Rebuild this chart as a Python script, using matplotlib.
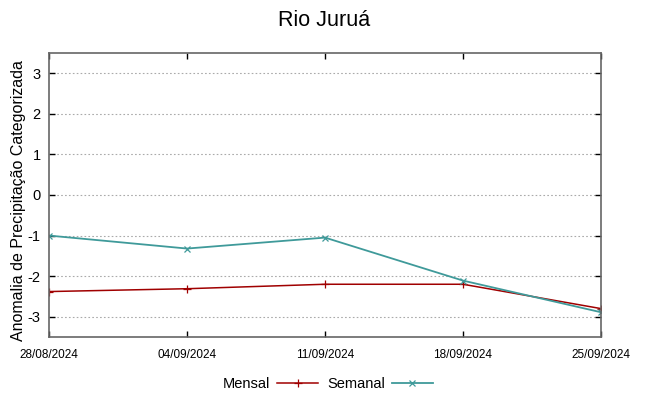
import matplotlib
matplotlib.use("Agg")
import matplotlib.pyplot as plt

plt.rcParams['font.family'] = ['Liberation Sans', 'DejaVu Sans']

dates = ["28/08/2024", "04/09/2024", "11/09/2024", "18/09/2024", "25/09/2024"]
mensal = [-2.38, -2.31, -2.20, -2.20, -2.80]
semanal = [-1.00, -1.32, -1.05, -2.11, -2.89]
yticks = [-3, -2, -1, 0, 1, 2, 3]

fig = plt.figure(figsize=(6.49, 3.96), dpi=100)
ax = fig.add_axes([49/649, 1-337/396, (601-49)/649, (337-53)/396])

x = list(range(len(dates)))
ax.plot(x, mensal, color='#a00000', lw=1.1, marker='+', ms=6, mew=0.9, label='Mensal')
ax.plot(x, semanal, color='#3f9a9a', lw=1.3, marker='x', ms=5, mew=0.9, label='Semanal')

ax.set_xlim(0, len(dates)-1)
ax.set_ylim(-3.5, 3.5)
ax.set_xticks(x)
ax.set_xticklabels(dates, fontsize=8.5)
ax.set_yticks(yticks)
ax.set_yticklabels([str(v) for v in yticks], fontsize=10.5)
ax.tick_params(direction='in', top=True, right=True, length=4, width=1, colors='black', pad=6)
ax.tick_params(axis='x', pad=9)
ax.yaxis.grid(True, linestyle=(0, (1.5, 2)), color='#aaaaaa', lw=0.8)
for s in ax.spines.values():
    s.set_color('#666666')
    s.set_linewidth(1.2)

ax.set_ylabel('Anomalia de Precipitação Categorizada', fontsize=11.5, va='center')
ax.yaxis.set_label_coords(-0.056, 0.479)
fig.suptitle('Rio Juruá', fontsize=15.5, y=0.975)

leg = fig.legend(loc='center', bbox_to_anchor=(0.505, 0.03), ncol=2, frameon=False,
                 markerfirst=False, fontsize=10.5, handlelength=2.8, columnspacing=0.6,
                 handletextpad=0.5)

fig.savefig('out.png', dpi=100)
